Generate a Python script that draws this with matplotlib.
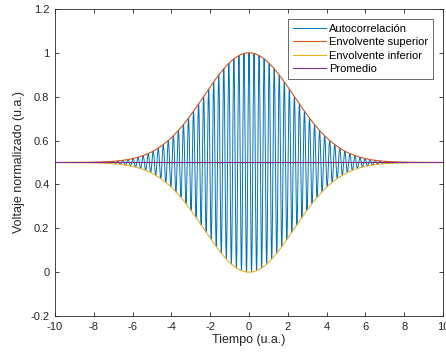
import numpy as np
import matplotlib
matplotlib.use("Agg")
import matplotlib.pyplot as plt

plt.rcParams['font.family'] = ['Liberation Sans', 'DejaVu Sans']
plt.rcParams['axes.unicode_minus'] = False

# Values
x_limits = [-10, 10]
y_limits = [-0.2, 1.2]
x_ticks = [-10, -8, -6, -4, -2, 0, 2, 4, 6, 8, 10]
y_ticks = [-0.2, 0, 0.2, 0.4, 0.6, 0.8, 1.0, 1.2]
y_tick_labels = ["-0.2", "0", "0.2", "0.4", "0.6", "0.8", "1", "1.2"]
baseline = 0.5          # Promedio level
amplitude = 0.5         # peak deviation at t = 0
envelope_sigma = 2.32   # Gaussian width (env(2)~0.69, env(4)~0.22, env(6)~0.03)
carrier_period = 0.26   # spacing of the fringes
series_names = ["Autocorrelación", "Envolvente superior", "Envolvente inferior", "Promedio"]
series_colors = ["#0072BD", "#D95319", "#EDB120", "#7E2F8E"]

t = np.linspace(x_limits[0], x_limits[1], 8001)
envelope = np.exp(-t**2 / (2 * envelope_sigma**2))
autocorr = baseline + amplitude * envelope * np.cos(2 * np.pi * t / carrier_period)
upper = baseline + amplitude * envelope
lower = baseline - amplitude * envelope
mean = np.full_like(t, baseline)

fig = plt.figure(figsize=(4.46, 3.60), dpi=100)
ax = fig.add_axes([55/446, 1 - 316/360, (443 - 55)/446, (316 - 9)/360])

ax.plot(t, autocorr, color=series_colors[0], lw=0.7, label=series_names[0])
ax.plot(t, upper, color=series_colors[1], lw=0.8, label=series_names[1])
ax.plot(t, lower, color=series_colors[2], lw=0.8, label=series_names[2])
ax.plot(t, mean, color=series_colors[3], lw=0.8, label=series_names[3])

ax.set_xlim(x_limits)
ax.set_ylim(y_limits)
ax.set_xticks(x_ticks)
ax.set_yticks(y_ticks)
ax.set_yticklabels(y_tick_labels)
ax.tick_params(direction='in', top=True, right=True, labelsize=8, length=3,
               width=0.6, colors='#262626', labelcolor='#262626', pad=4)
for s in ax.spines.values():
    s.set_linewidth(0.6)
    s.set_color('#262626')

ax.set_xlabel("Tiempo (u.a.)", fontsize=9, color='#262626', labelpad=2)
ax.set_ylabel("Voltaje normalizado (u.a.)", fontsize=9, color='#262626', labelpad=4)

leg = ax.legend(loc='upper right', fontsize=8, frameon=True, fancybox=False,
                edgecolor='#262626', handlelength=3.0, handletextpad=0.25,
                borderpad=0.45, labelspacing=0.3, borderaxespad=0.9)
leg.get_frame().set_linewidth(0.6)

fig.savefig("out.png", dpi=100)
